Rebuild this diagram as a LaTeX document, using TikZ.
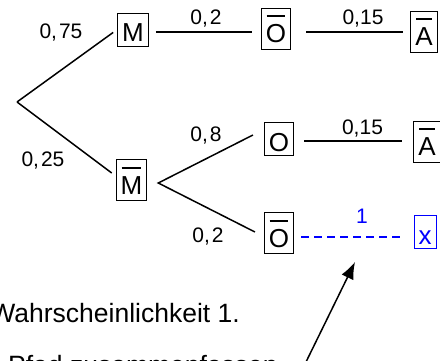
\documentclass[tikz,border=0pt]{standalone}
\usepackage{fontspec}
\setmainfont{Liberation Sans}
\usetikzlibrary{arrows.meta}

% letter with a bar drawn over it (complementary event)
\newcommand\ovbar[1]{\setbox0=\hbox{#1}\hbox{\rlap{\hbox to\wd0{\hss\raisebox{26pt}{\rule{0.92\wd0}{2pt}}\hss}}\box0}}

\tikzset{
  lbl/.style={font=\fontsize{21}{24}\selectfont, inner sep=0pt, anchor=base},
  plainbox/.style={draw, line width=0.9pt, font=\fontsize{26}{28}\selectfont,
    inner xsep=4.5pt, inner ysep=0pt, text height=29pt, text depth=4pt},
  barbox/.style={plainbox, text height=35pt, text depth=6pt},
  branch/.style={line width=1.5pt},
  note/.style={font=\fontsize{26.5}{30}\selectfont, inner sep=0pt},
}

\begin{document}
\begin{tikzpicture}[x=1pt,y=-1pt]
\useasboundingbox (0,0) rectangle (440,361);

% tree nodes
\coordinate (root) at (17,102);
\node[plainbox] (m)   at (133,29.5)  {M};
\node[barbox]   (mb)  at (131.5,180) {\ovbar{M}};
\node[barbox]   (ob1) at (276,28.5)  {\ovbar{O}};
\node[barbox]   (ab1) at (424,31.5) {\ovbar{A}};
\node[plainbox] (o2)  at (279,139)   {O};
\node[barbox]   (ab2) at (427,141.5) {\ovbar{A}};
\node[barbox]   (ob3) at (279,233)   {\ovbar{O}};
\node[plainbox, draw=blue, text=blue] (xb) at (425,231.5) {x};

% branches
\draw[branch, shorten >=5pt] (root) -- (m.west);
\draw[branch, shorten >=5pt] (root) -- ([yshift=4pt]mb.west);
\draw[branch, shorten <=7pt, shorten >=9pt]
  ([yshift=-2.5pt]m.east) -- ([yshift=-2.5pt]m.east -| ob1.west);
\draw[branch, shorten <=15pt, shorten >=7pt]
  ([yshift=-3.5pt]ob1.east) -- ([yshift=-3.5pt]ob1.east -| ab1.west);
\coordinate (apex) at ([xshift=11pt,yshift=-3pt]mb.east);
\draw[branch] ([xshift=-11pt,yshift=4pt]o2.west) -- (apex)
  -- ([xshift=-9pt,yshift=1pt]ob3.west);
\draw[branch, shorten <=10pt, shorten >=11pt]
  ([yshift=-2pt]o2.east) -- ([yshift=-2pt]o2.east -| ab2.west);
\draw[branch, blue, dash pattern=on 8pt off 5pt, shorten <=7pt, shorten >=12pt]
  ([yshift=-4pt]ob3.east) -- ([yshift=-4pt]ob3.east -| xb.west);

% branch probabilities
\node[lbl] (p1) at (61,39)    {0,\kern2pt 75};
\node[lbl] (p2) at (43,167)   {0,\kern2pt 25};
\node[lbl] (p3) at (206,25)   {0,\kern2pt 2};
\node[lbl] (p4) at (363,25)   {0,15};
\node[lbl] (p5) at (206,142)  {0,\kern2pt 8};
\node[lbl] (p6) at (362.5,135) {0,15};
\node[lbl] (p7) at (208,243)  {0,\kern2pt 2};
\node[lbl, text=blue] (p8) at (362,223) {1};

% explanatory text
\node[note, anchor=base east] (t1) at (240,323) {Wahrscheinlichkeit 1.};
\node[note, anchor=base west] (t2) at (8,374) {Pfad zusammenfassen};

% pointer to the merged path
\coordinate (tail) at (306,362);
\coordinate (tip) at (355,262);
\draw[line width=1.5pt, -{Latex[length=17pt,width=13pt]}] (tail) -- (tip);
\end{tikzpicture}
\end{document}
